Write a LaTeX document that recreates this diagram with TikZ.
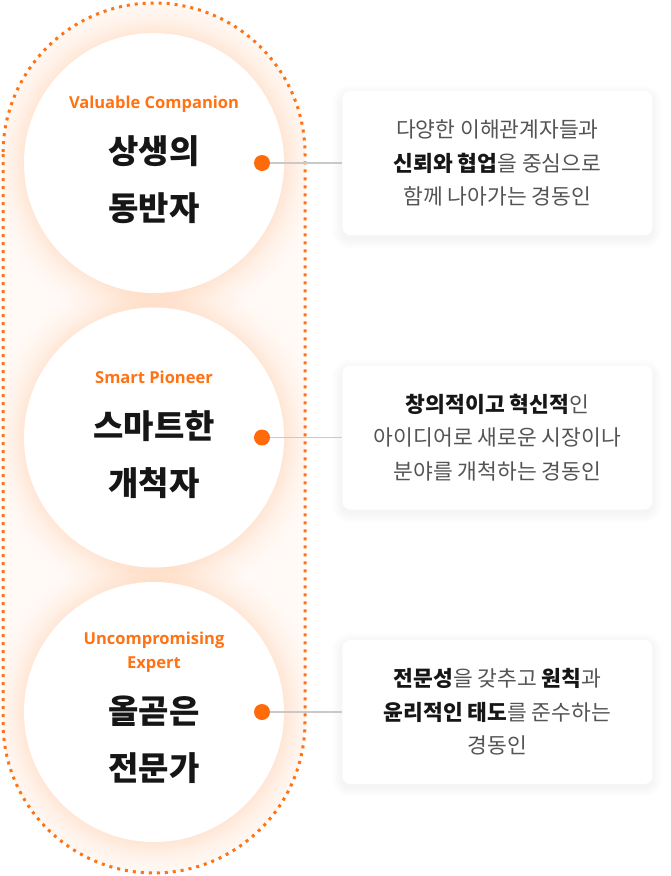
\documentclass[tikz,border=0pt]{standalone}
\usepackage{fontspec}
\setmainfont{Noto Sans CJK KR}
\newfontfamily\tagfont{Open Sans}
\usepackage{tikz}
\usepackage{xcolor}
\usetikzlibrary{positioning, fadings}
\definecolor{ptorange}{HTML}{FF7314}
\definecolor{ptdot}{HTML}{FF6A0A}
\definecolor{ptgray}{HTML}{545454}
\definecolor{ptink}{HTML}{161616}
\definecolor{ptline}{HTML}{C9C9C9}
\newcommand{\keyw}[1]{{\bfseries\color{ptink}#1}}
\newcommand{\pillpath}{(3,-154) -- (3,-722) arc[start angle=180, end angle=360, radius=151]
    -- (305,-154) arc[start angle=0, end angle=180, radius=151] -- cycle}
\pgfdeclareradialshading{glowmask}{\pgfpointorigin}{%
    color(0bp)=(white); color(19.7bp)=(white);
    color(20.8bp)=(white!65!black); color(22.5bp)=(white!25!black);
    color(25bp)=(black); color(50bp)=(black)}
\pgfdeclarefading{glowfade}{\pgfuseshading{glowmask}}

\begin{document}
\begin{tikzpicture}[
    x=1pt, y=1pt,
    circ/.style={circle, fill=white, minimum size=260pt, inner sep=0pt},
    tag/.style={font=\tagfont\bfseries\fontsize{16.5}{24}\selectfont, text=ptorange,
                align=center, inner sep=0pt, text depth=4pt},
    title/.style={font=\fontsize{33}{57}\selectfont\bfseries, text=ptink,
                align=center, inner sep=0pt},
    dot/.style={circle, fill=ptdot, minimum size=16pt, inner sep=0pt},
    card/.style={rounded corners=8pt, fill=white, minimum width=310pt,
                minimum height=144pt, align=center, text=ptgray,
                font=\fontsize{21.5}{33.5}\selectfont},
    link/.style={draw=ptline, line width=1.5pt}
]
\fill[white] (0,0) rectangle (670,-876);
\useasboundingbox (0,0) rectangle (670,-876);

% soft orange glow inside the pill
\begin{scope}
    \clip \pillpath;
    \fill[ptorange, opacity=0.035] \pillpath;
    \foreach \cy in {163,437.5,712}
        \fill[ptorange, opacity=0.14, path fading=glowfade] (154,-\cy) circle[radius=165];
\end{scope}
\draw[ptorange, line width=3pt, dash pattern=on 3pt off 5pt] \pillpath;

% circles
\node[circ] (c1) at (154,-163)   {};
\node[circ] (c2) at (154,-437.5) {};
\node[circ] (c3) at (154,-712)   {};

\node[title] (t1) at ([yshift=-17pt]c1.center)   {상생의\\동반자};
\node[tag, above=23pt of t1] (g1) {Valuable Companion};
\node[title] (t2) at ([yshift=-17.5pt]c2.center) {스마트한\\개척자};
\node[tag, above=23pt of t2] (g2) {Smart Pioneer};
\node[title] (t3) at ([yshift=-27.5pt]c3.center) {올곧은\\전문가};
\node[tag, above=23pt of t3] (g3) {Uncompromising\\Expert};

\node[dot] (d1) at ([xshift=108pt]c1.center) {};
\node[dot] (d2) at ([xshift=108pt]c2.center) {};
\node[dot] (d3) at ([xshift=108pt]c3.center) {};

% card shadows
\foreach \cy in {164,438,712}
    \foreach \k in {1,...,10}
        \fill[black, opacity=0.005, rounded corners=8pt+\k pt]
            (342-\k,-\cy+72+\k-3) rectangle (652+\k,-\cy-72-\k-3);

% cards
\node[card, right=72pt of d1] (b1) {다양한 이해관계자들과\\\keyw{신뢰와 협업}을 중심으로\\함께 나아가는 경동인};
\node[card, right=72pt of d2] (b2) {\keyw{창의적이고 혁신적}인\\아이디어로 새로운 시장이나\\분야를 개척하는 경동인};
\node[card, right=72pt of d3] (b3) {\keyw{전문성}을 갖추고 \keyw{원칙}과\\\keyw{윤리적인 태도}를 준수하는\\경동인};

\foreach \i in {1,2,3}
    \draw[link] (d\i) -- (b\i);
\end{tikzpicture}
\end{document}
